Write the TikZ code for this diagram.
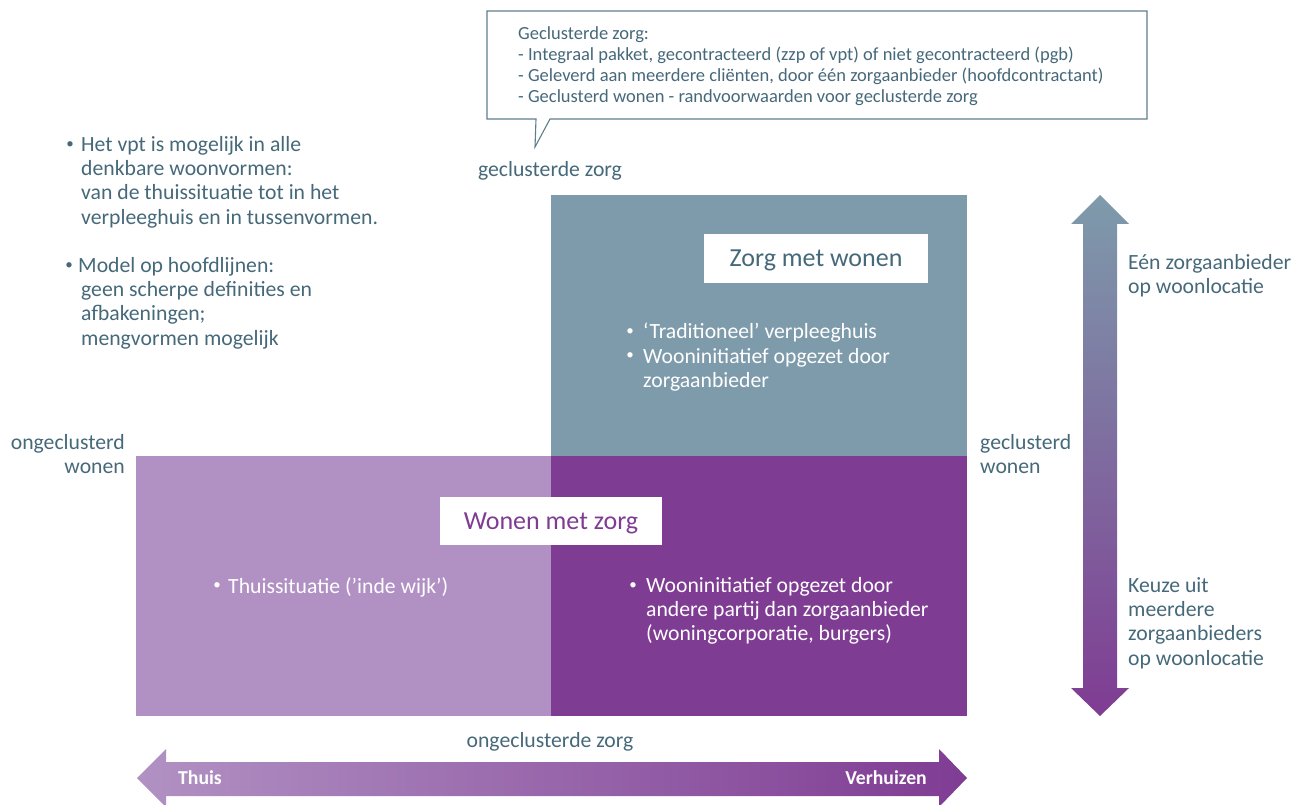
\documentclass[tikz,border=0pt]{standalone}
\usepackage{fontspec}
\setmainfont{Carlito}
\usetikzlibrary{shapes.geometric}
\definecolor{txt}{HTML}{46697A}
\definecolor{bluegray}{HTML}{7E9BAB}
\definecolor{lightpurple}{HTML}{B191C3}
\definecolor{purple}{HTML}{7F3C93}
\definecolor{callline}{HTML}{5E7E8C}
\tikzset{
  lbl/.style={inner sep=0pt, text=txt, font=\fontsize{21.7}{24.3}\selectfont, align=left},
  wlbl/.style={inner sep=0pt, text=white, font=\fontsize{21.7}{24.3}\selectfont, align=left},
  bulg/.style={inner sep=0pt, font=\fontsize{15}{15}\selectfont},
  callt/.style={inner sep=0pt, text=txt, font=\fontsize{18.5}{21.3}\selectfont, align=left},
  titlebox/.style={fill=white, inner sep=0pt, text depth=0pt, font=\fontsize{26}{30}\selectfont},
  arrlbl/.style={inner sep=0pt, text=white, font=\bfseries\fontsize{19.7}{22}\selectfont}
}
\begin{document}
\begin{tikzpicture}[x=1pt,y=-1pt]
\useasboundingbox (0,0) rectangle (1293,805);
% callout
\draw[callline, line width=1.1pt, fill=white] (487,11) -- (1147,11) -- (1147,119) -- (550,119) -- (535,147) -- (536,119) -- (487,119) -- cycle;
\node[callt, anchor=north west] (call) at (518,26) {Geclusterde zorg:\\
- Integraal pakket, gecontracteerd (zzp of vpt) of niet gecontracteerd (pgb)\\
- Geleverd aan meerdere cliënten, door één zorgaanbieder (hoofdcontractant)\\
- Geclusterd wonen - randvoorwaarden voor geclusterde zorg};
\node[lbl] (gz) at (550,171) {geclusterde zorg};
% left notes
\node[bulg, text=txt] (n1b) at (70,145) {\textbullet};
\node[lbl, anchor=north west] (n1) at (81,136) {Het vpt is mogelijk in alle\\
denkbare woonvormen:\\
van de thuissituatie tot in het\\
verpleeghuis en in tussenvormen.};
\node[bulg, text=txt] (n2b) at (69,266) {\textbullet};
\node[lbl, anchor=north west] (n2) at (78,257) {Model op hoofdlijnen:\\
\hspace{3pt}geen scherpe definities en\\
\hspace{3pt}afbakeningen;\\
\hspace{3pt}mengvormen mogelijk};
% quadrants
\fill[bluegray] (551,195) rectangle (967,456);
\fill[lightpurple] (136,456) rectangle (551,716);
\fill[purple] (551,456) rectangle (967,716);
\node[titlebox, text=txt, minimum width=224pt, minimum height=49pt] (zmw) at (816,258.5) {Zorg met wonen};
\node[titlebox, text=purple, minimum width=222pt, minimum height=48pt] (wmz) at (551,521) {Wonen met zorg};
\node[bulg, text=white] (b1b) at (630,332) {\textbullet};
\node[bulg, text=white] (b1c) at (630,356) {\textbullet};
\node[wlbl, anchor=north west] (b1) at (643,323) {‘Traditioneel’ verpleeghuis\\
Wooninitiatief opgezet door\\
zorgaanbieder};
\node[bulg, text=white] (b2b) at (217,586) {\textbullet};
\node[wlbl, anchor=north west] (b2) at (228,577) {Thuissituatie (’inde wijk’)};
\node[bulg, text=white] (b3b) at (633,586) {\textbullet};
\node[wlbl, anchor=north west] (b3) at (646,577) {Wooninitiatief opgezet door\\
andere partij dan zorgaanbieder\\
(woningcorporatie, burgers)};
% axis labels
\node[lbl, anchor=north east, align=right] (ow) at (125,434) {ongeclusterd\\wonen};
\node[lbl, anchor=north west] (gw) at (980,434) {geclusterd\\wonen};
\node[lbl] (oz) at (550,742) {ongeclusterde zorg};
% vertical arrow
\shade[top color=bluegray, bottom color=purple] (1100,195) -- (1129,224) -- (1117,224) -- (1117,688) -- (1129,688) -- (1100,716) -- (1071,688) -- (1083,688) -- (1083,224) -- (1071,224) -- cycle;
\node[lbl, anchor=north west] (top) at (1128,254) {Eén zorgaanbieder\\op woonlocatie};
\node[lbl, anchor=north west] (bot) at (1128,577) {Keuze uit\\meerdere\\zorgaanbieders\\op woonlocatie};
% horizontal arrow
\shade[left color=lightpurple, right color=purple] (137,778) -- (166,749) -- (166,762) -- (939,762) -- (939,749) -- (967,778) -- (939,807) -- (939,796) -- (166,796) -- (166,807) -- cycle;
\node[arrlbl, anchor=west] (thuis) at (178,778) {Thuis};
\node[arrlbl, anchor=east] (verh) at (927,778) {Verhuizen};
\end{tikzpicture}
\end{document}
